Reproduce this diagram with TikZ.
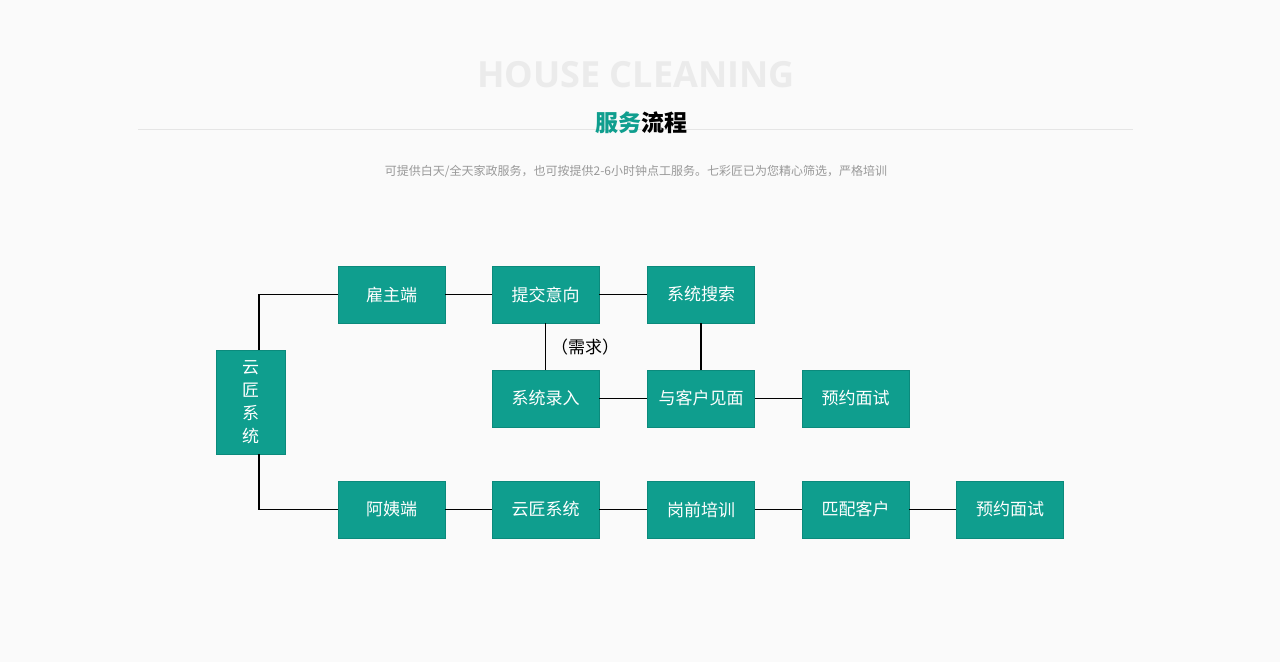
\documentclass[tikz,border=0pt]{standalone}
\usepackage{fontspec}
\setmainfont{Noto Sans CJK SC}
\newfontfamily\latinb{Open Sans}
\definecolor{teal1}{HTML}{0F9E8E}
\definecolor{teal2}{HTML}{0B8A7C}
\definecolor{bg}{HTML}{FAFAFA}
\tikzset{box/.style={draw=teal2,fill=teal1,text=white,minimum width=107pt,minimum height=57pt,inner sep=0pt,font=\fontsize{17}{20}\selectfont},
ln/.style={line width=1.2pt,black}}
\begin{document}
\begin{tikzpicture}[x=1pt,y=-1pt]
\fill[bg] (0,0) rectangle (1280,662);
\useasboundingbox (0,0) rectangle (1280,662);
\node (t1) at (636,75) {\latinb\bfseries\fontsize{36}{40}\selectfont\color{black!8}HOUSE CLEANING};
\draw[black!10,line width=0.8pt] (138,129) -- (1133,129);
\node (t2) at (641,123) {\bfseries\fontsize{23}{26}\selectfont\textcolor{teal1}{服务}流程};
\node (t3) at (636,171) {\fontsize{12}{14}\selectfont\color{black!40}可提供白天/全天家政服务，也可按提供2-6小时钟点工服务。七彩匠已为您精心筛选，严格培训};
\node[box] (a1) at (391.5,294.5) {雇主端};
\node[box] (a2) at (545.5,294.5) {提交意向};
\node[box] (a3) at (701,294.5) {系统搜索};
\node[box] (b1) at (545.5,398.5) {系统录入};
\node[box] (b2) at (701,398.5) {与客户见面};
\node[box] (b3) at (855.5,398.5) {预约面试};
\node[box] (c1) at (391.5,509.5) {阿姨端};
\node[box] (c2) at (545.5,509.5) {云匠系统};
\node[box] (c3) at (701,509.5) {岗前培训};
\node[box] (c4) at (855.5,509.5) {匹配客户};
\node[box] (c5) at (1010,509.5) {预约面试};
\node[box,minimum width=69pt,minimum height=104pt,align=center,font=\fontsize{17}{23}\selectfont] (s) at (250.5,402) {云\\匠\\系\\统};
\draw[ln] ([xshift=8.5pt]s.north) |- (a1.west);
\draw[ln] ([xshift=8.5pt]s.south) |- (c1.west);
\draw[ln] (a1) -- (a2); \draw[ln] (a2) -- (a3);
\draw[ln] (b1) -- (b2); \draw[ln] (b2) -- (b3);
\draw[ln] (c1) -- (c2); \draw[ln] (c2) -- (c3); \draw[ln] (c3) -- (c4); \draw[ln] (c4) -- (c5);
\draw[ln] (a2) -- (b1);
\draw[ln] (a3) -- (b2);
\node[font=\fontsize{17}{20}\selectfont,fill=bg,inner sep=1pt,anchor=west] (n) at (550,347) {（需求）};
\end{tikzpicture}
\end{document}
